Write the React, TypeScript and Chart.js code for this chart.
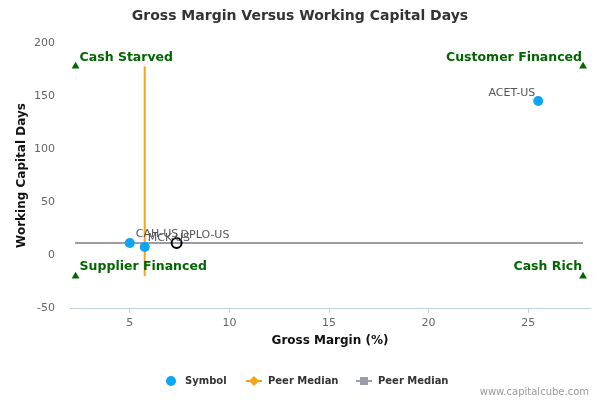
import React, { useEffect, useRef } from "react";
import { Chart, registerables } from "chart.js";

Chart.register(...registerables);

const FONT = "'DejaVu Sans', Verdana, sans-serif";

// Data
const symbolNames = ["CAH-US", "MCK-US", "ACET-US"];
const symbolX = [5.0, 5.75, 25.5];
const symbolY = [11.3, 7.5, 145.3];

const focusName = "DPLO-US";
const focusX = [7.35];
const focusY = [11.3];

const peerMedianX = 5.75;
const peerMedianY = 11.3;
const verticalSpanY = [-20, 178];
const horizontalSpanX = [2.25, 27.75];

const quadrantNames = ["Cash Starved", "Customer Financed", "Supplier Financed", "Cash Rich"];
const quadrantX = [2.28, 27.75, 2.28, 27.75];
const quadrantY = [178, 178, -20, -20];

const xTicks = [5, 10, 15, 20, 25];
const yTicks = [-50, 0, 50, 100, 150, 200];
const xRange = [2, 28.1];
const yRange = [-50, 200];

const chartTitle = "Gross Margin Versus Working Capital Days";
const xTitle = "Gross Margin (%)";
const yTitle = "Working Capital Days";
const legendLabels = ["Symbol", "Peer Median", "Peer Median"];
const creditText = "www.capitalcube.com";

// Styles
const BLUE = "#0DA5F5";
const ORANGE = "#F7A21B";
const GRAY = "#9A9DA8";
const GREEN = "#006600";
const labelOffsets: Record<string, { dx: number; dy: number; align: CanvasTextAlign }> = {
  "CAH-US": { dx: 6, dy: -9, align: "left" },
  "MCK-US": { dx: 3, dy: -9, align: "left" },
  "ACET-US": { dx: -3, dy: -8, align: "right" },
  "DPLO-US": { dx: 4, dy: -8, align: "left" },
};

const overlayPlugin = {
  id: "overlay",
  afterDatasetsDraw(chart: any) {
    const { ctx, scales } = chart;
    const xs = scales.x;
    const ys = scales.y;
    ctx.save();
    ctx.textBaseline = "middle";

    // point labels
    ctx.font = `11px ${FONT}`;
    ctx.fillStyle = "#555555";
    const drawLabel = (name: string, x: number, y: number) => {
      const o = labelOffsets[name];
      ctx.textAlign = o.align;
      ctx.fillText(name, xs.getPixelForValue(x) + o.dx, ys.getPixelForValue(y) + o.dy);
    };
    symbolNames.forEach((n, i) => drawLabel(n, symbolX[i], symbolY[i]));
    drawLabel(focusName, focusX[0], focusY[0]);

    // quadrant labels
    ctx.font = `bold 12.5px ${FONT}`;
    ctx.fillStyle = GREEN;
    quadrantNames.forEach((n, i) => {
      const px = xs.getPixelForValue(quadrantX[i]);
      const py = ys.getPixelForValue(quadrantY[i]);
      const left = quadrantX[i] < (xRange[0] + xRange[1]) / 2;
      ctx.textAlign = left ? "left" : "right";
      ctx.fillText(n, left ? px + 4 : px - 1, py - 9);
    });

    ctx.restore();
  },
  afterDraw(chart: any) {
    const { ctx, chartArea } = chart;
    ctx.save();
    ctx.textBaseline = "middle";

    // title
    ctx.font = `bold 14px ${FONT}`;
    ctx.fillStyle = "#333333";
    ctx.textAlign = "center";
    ctx.fillText(chartTitle, 300, 16);

    // axis titles
    ctx.font = `bold 12px ${FONT}`;
    ctx.fillStyle = "#111111";
    ctx.fillText(xTitle, (chartArea.left + chartArea.right) / 2, 341);
    ctx.save();
    ctx.translate(22, (chartArea.top + chartArea.bottom) / 2);
    ctx.rotate(-Math.PI / 2);
    ctx.fillText(yTitle, 0, 0);
    ctx.restore();

    // legend
    const ly = 381;
    ctx.font = `bold 10px ${FONT}`;
    ctx.textAlign = "left";
    // item 1
    ctx.beginPath();
    ctx.arc(171, ly, 5, 0, Math.PI * 2);
    ctx.fillStyle = BLUE;
    ctx.fill();
    ctx.fillStyle = "#333333";
    ctx.fillText(legendLabels[0], 185, ly);
    // item 2
    ctx.strokeStyle = ORANGE;
    ctx.lineWidth = 2;
    ctx.beginPath();
    ctx.moveTo(246, ly);
    ctx.lineTo(262, ly);
    ctx.stroke();
    ctx.fillStyle = ORANGE;
    ctx.beginPath();
    ctx.moveTo(254, ly - 5);
    ctx.lineTo(259, ly);
    ctx.lineTo(254, ly + 5);
    ctx.lineTo(249, ly);
    ctx.closePath();
    ctx.fill();
    ctx.fillStyle = "#333333";
    ctx.fillText(legendLabels[1], 268, ly);
    // item 3
    ctx.strokeStyle = GRAY;
    ctx.beginPath();
    ctx.moveTo(356, ly);
    ctx.lineTo(372, ly);
    ctx.stroke();
    ctx.fillStyle = GRAY;
    ctx.fillRect(360, ly - 4, 8, 8);
    ctx.fillStyle = "#333333";
    ctx.fillText(legendLabels[2], 378, ly);

    // credit
    ctx.font = `10px ${FONT}`;
    ctx.fillStyle = "#999999";
    ctx.textAlign = "right";
    ctx.fillText(creditText, 589, 392);

    ctx.restore();
  },
};

export default function App() {
  const canvasRef = useRef<HTMLCanvasElement | null>(null);

  useEffect(() => {
    document.body.style.margin = "0";
    const canvas = canvasRef.current;
    if (!canvas) return;
    const chart = new Chart(canvas, {
      type: "scatter",
      data: {
        datasets: [
          {
            label: "Symbol",
            data: symbolX.map((x, i) => ({ x, y: symbolY[i] })),
            backgroundColor: BLUE,
            borderColor: BLUE,
            pointRadius: 5,
            pointBorderWidth: 0,
          },
          {
            label: focusName,
            data: focusX.map((x, i) => ({ x, y: focusY[i] })),
            backgroundColor: "rgba(255,255,255,0)",
            borderColor: "#000000",
            pointRadius: 5,
            pointBorderWidth: 2,
          },
          {
            label: "Quadrants",
            data: quadrantX.map((x, i) => ({ x, y: quadrantY[i] })),
            pointStyle: "triangle",
            backgroundColor: GREEN,
            borderColor: GREEN,
            pointRadius: 4.5,
            pointBorderWidth: 0,
          },
          {
            label: "Peer Median",
            data: verticalSpanY.map((y) => ({ x: peerMedianX, y })),
            showLine: true,
            borderColor: ORANGE,
            borderWidth: 2,
            pointRadius: 0,
          },
          {
            label: "Peer Median",
            data: horizontalSpanX.map((x) => ({ x, y: peerMedianY })),
            showLine: true,
            borderColor: GRAY,
            borderWidth: 2,
            pointRadius: 0,
          },
        ],
      },
      options: {
        animation: false,
        responsive: true,
        maintainAspectRatio: false,
        layout: { padding: { left: 0, top: 43, right: 10, bottom: 0 } },
        plugins: {
          legend: { display: false },
          tooltip: { enabled: false },
          title: { display: false },
        },
        scales: {
          x: {
            type: "linear",
            min: xRange[0],
            max: xRange[1],
            afterBuildTicks: (s: any) => {
              s.ticks = xTicks.map((v) => ({ value: v }));
            },
            afterFit: (s: any) => {
              s.height = 92;
            },
            grid: {
              display: true,
              drawOnChartArea: false,
              drawTicks: true,
              tickLength: 5,
              color: "#C0D0E0",
            },
            border: { display: true, color: "#C0D0E0", width: 1 },
            ticks: {
              color: "#666666",
              font: { family: FONT, size: 11 },
              padding: 4,
              maxRotation: 0,
            },
          },
          y: {
            type: "linear",
            min: yRange[0],
            max: yRange[1],
            afterBuildTicks: (s: any) => {
              s.ticks = yTicks.map((v) => ({ value: v }));
            },
            afterFit: (s: any) => {
              s.width = 70;
            },
            grid: { display: false, drawTicks: false },
            border: { display: false },
            ticks: {
              color: "#666666",
              font: { family: FONT, size: 11 },
              padding: 15,
            },
          },
        },
      },
      plugins: [overlayPlugin],
    });
    return () => chart.destroy();
  }, []);

  return (
    <div style={{ position: "relative", width: 600, height: 400 }}>
      <canvas ref={canvasRef} />
    </div>
  );
}
